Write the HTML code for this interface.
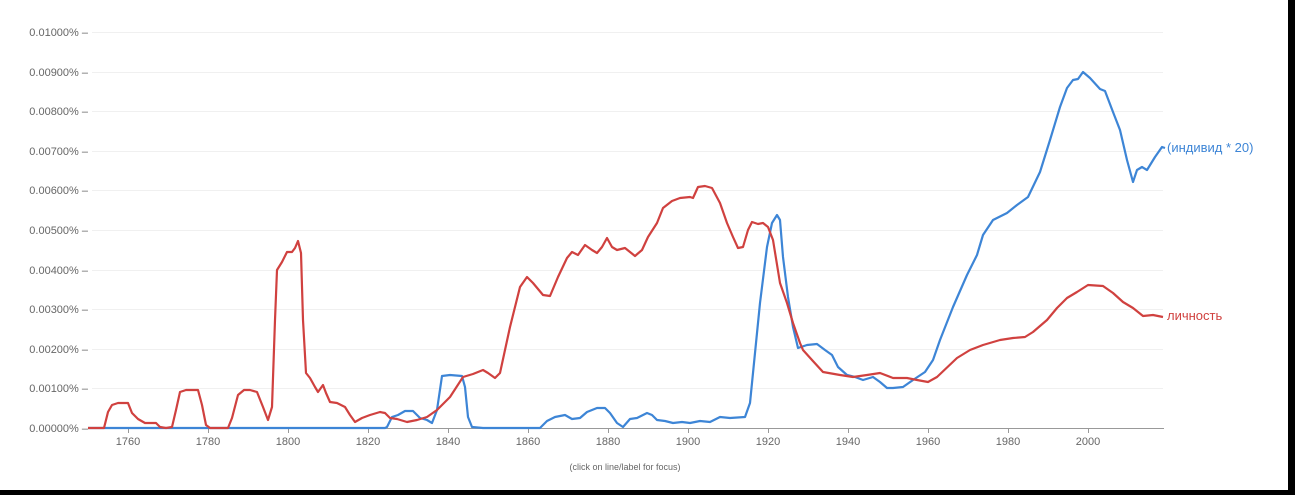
<!DOCTYPE html>
<html><head><meta charset="utf-8"><style>
html,body{margin:0;padding:0;background:#000;}
#w{position:relative;width:1295px;height:495px;overflow:hidden;background:#000;}
svg{position:absolute;left:0;top:0;}
text{font-family:"Liberation Sans",sans-serif;}
</style></head><body><div id="w">
<svg width="1295" height="495" xmlns="http://www.w3.org/2000/svg">
<rect x="0" y="0" width="1288" height="490" fill="#fff"/>
<g stroke="#f0f0f0" stroke-width="1">
<line x1="92" x2="1163" y1="32.5" y2="32.5"/><line x1="92" x2="1163" y1="72.5" y2="72.5"/>
<line x1="92" x2="1163" y1="111.5" y2="111.5"/><line x1="92" x2="1163" y1="151.5" y2="151.5"/>
<line x1="92" x2="1163" y1="190.5" y2="190.5"/><line x1="92" x2="1163" y1="230.5" y2="230.5"/>
<line x1="92" x2="1163" y1="270.5" y2="270.5"/><line x1="92" x2="1163" y1="309.5" y2="309.5"/>
<line x1="92" x2="1163" y1="349.5" y2="349.5"/><line x1="92" x2="1163" y1="388.5" y2="388.5"/>
</g>
<g font-size="11" fill="#666" text-anchor="end">
<text x="88" y="36">0.01000% –</text><text x="88" y="76">0.00900% –</text>
<text x="88" y="115">0.00800% –</text><text x="88" y="155">0.00700% –</text>
<text x="88" y="194">0.00600% –</text><text x="88" y="234">0.00500% –</text>
<text x="88" y="274">0.00400% –</text><text x="88" y="313">0.00300% –</text>
<text x="88" y="353">0.00200% –</text><text x="88" y="392">0.00100% –</text>
<text x="88" y="432">0.00000% –</text>
</g>
<line x1="88" x2="1164" y1="428.5" y2="428.5" stroke="#999"/>
<g stroke="#999"><line x1="128.5" x2="128.5" y1="428" y2="433"/><line x1="208.5" x2="208.5" y1="428" y2="433"/><line x1="288.5" x2="288.5" y1="428" y2="433"/><line x1="368.5" x2="368.5" y1="428" y2="433"/><line x1="448.5" x2="448.5" y1="428" y2="433"/><line x1="528.5" x2="528.5" y1="428" y2="433"/><line x1="608.5" x2="608.5" y1="428" y2="433"/><line x1="688.5" x2="688.5" y1="428" y2="433"/><line x1="768.5" x2="768.5" y1="428" y2="433"/><line x1="848.5" x2="848.5" y1="428" y2="433"/><line x1="928.5" x2="928.5" y1="428" y2="433"/><line x1="1008.5" x2="1008.5" y1="428" y2="433"/><line x1="1088.5" x2="1088.5" y1="428" y2="433"/></g>
<g font-size="11" fill="#666" text-anchor="middle">
<text x="128" y="445">1760</text><text x="208" y="445">1780</text><text x="288" y="445">1800</text><text x="368" y="445">1820</text><text x="448" y="445">1840</text><text x="528" y="445">1860</text><text x="608" y="445">1880</text><text x="688" y="445">1900</text><text x="768" y="445">1920</text><text x="848" y="445">1940</text><text x="928" y="445">1960</text><text x="1008" y="445">1980</text><text x="1088" y="445">2000</text>
</g>
<text x="625" y="470" font-size="9" fill="#666" text-anchor="middle">(click on line/label for focus)</text>
<polyline fill="none" stroke="#3d85d6" stroke-width="2.2" stroke-linejoin="round" points="88,428 385,428 387,427 392,417 398,415 405,411 413,411 420,418 427,420 432,423 437,410 442,376 450,375 462,376 465,387 468,417 472,427 483,428 540,428 547,421 555,417 565,415 572,419 580,418 587,412 597,408 605,408 610,413 617,423 623,427 630,419 637,418 647,413 652,415 657,420 665,421 673,423 682,422 690,423 700,421 710,422 720,417 730,418 745,417 750,403 755,353 760,303 767,247 772,223 777,215 780,220 783,257 788,297 793,327 798,348 807,345 817,344 825,350 832,355 838,367 847,375 855,377 863,380 873,377 880,382 887,388 893,388 903,387 913,380 925,372 933,360 940,340 953,307 967,275 977,255 983,235 993,220 1007,213 1017,205 1028,197 1040,172 1050,140 1060,107 1067,88 1073,80 1078,79 1083,72 1090,78 1100,89 1105,91 1113,112 1120,130 1127,160 1133,182 1137,170 1142,167 1147,170 1155,157 1162,147 1165,148"/>
<polyline fill="none" stroke="#d0413f" stroke-width="2.2" stroke-linejoin="round" points="88,428 104,428 108,412 112,405 118,403 128,403 132,413 138,419 145,423 156,423 160,427 166,428 172,427 176,410 180,392 186,390 198,390 202,405 206,425 210,428 228,428 232,418 238,395 244,390 250,390 257,392 263,407 268,420 272,407 275,320 277,270 282,262 287,252 292,252 295,248 298,241 301,253 303,320 306,373 310,378 315,387 318,392 323,385 326,393 330,402 337,403 345,407 350,415 355,422 362,418 370,415 380,412 385,413 390,418 397,419 407,422 417,420 427,417 437,410 450,397 463,377 473,374 483,370 488,373 495,378 500,373 510,327 520,287 527,277 533,283 543,295 550,296 558,277 567,258 572,252 578,255 585,245 592,250 597,253 602,247 607,238 612,247 617,250 625,248 630,252 635,256 642,250 648,237 657,223 663,208 672,201 680,198 690,197 693,198 698,187 705,186 712,188 720,203 727,223 733,237 738,248 743,247 748,230 752,222 758,224 763,223 768,227 773,240 780,283 787,303 793,323 800,343 803,350 812,360 823,372 840,375 853,377 867,375 880,373 893,378 907,378 917,380 928,382 937,377 957,358 970,350 983,345 1000,340 1013,338 1025,337 1033,332 1047,320 1057,308 1067,298 1077,292 1088,285 1103,286 1113,293 1123,302 1133,308 1143,316 1153,315 1163,317"/>
<text x="1167" y="152" font-size="13" fill="#3d85d6">(индивид * 20)</text>
<text x="1167" y="320" font-size="13" fill="#d0413f">личность</text>
</svg>
</div></body></html>
